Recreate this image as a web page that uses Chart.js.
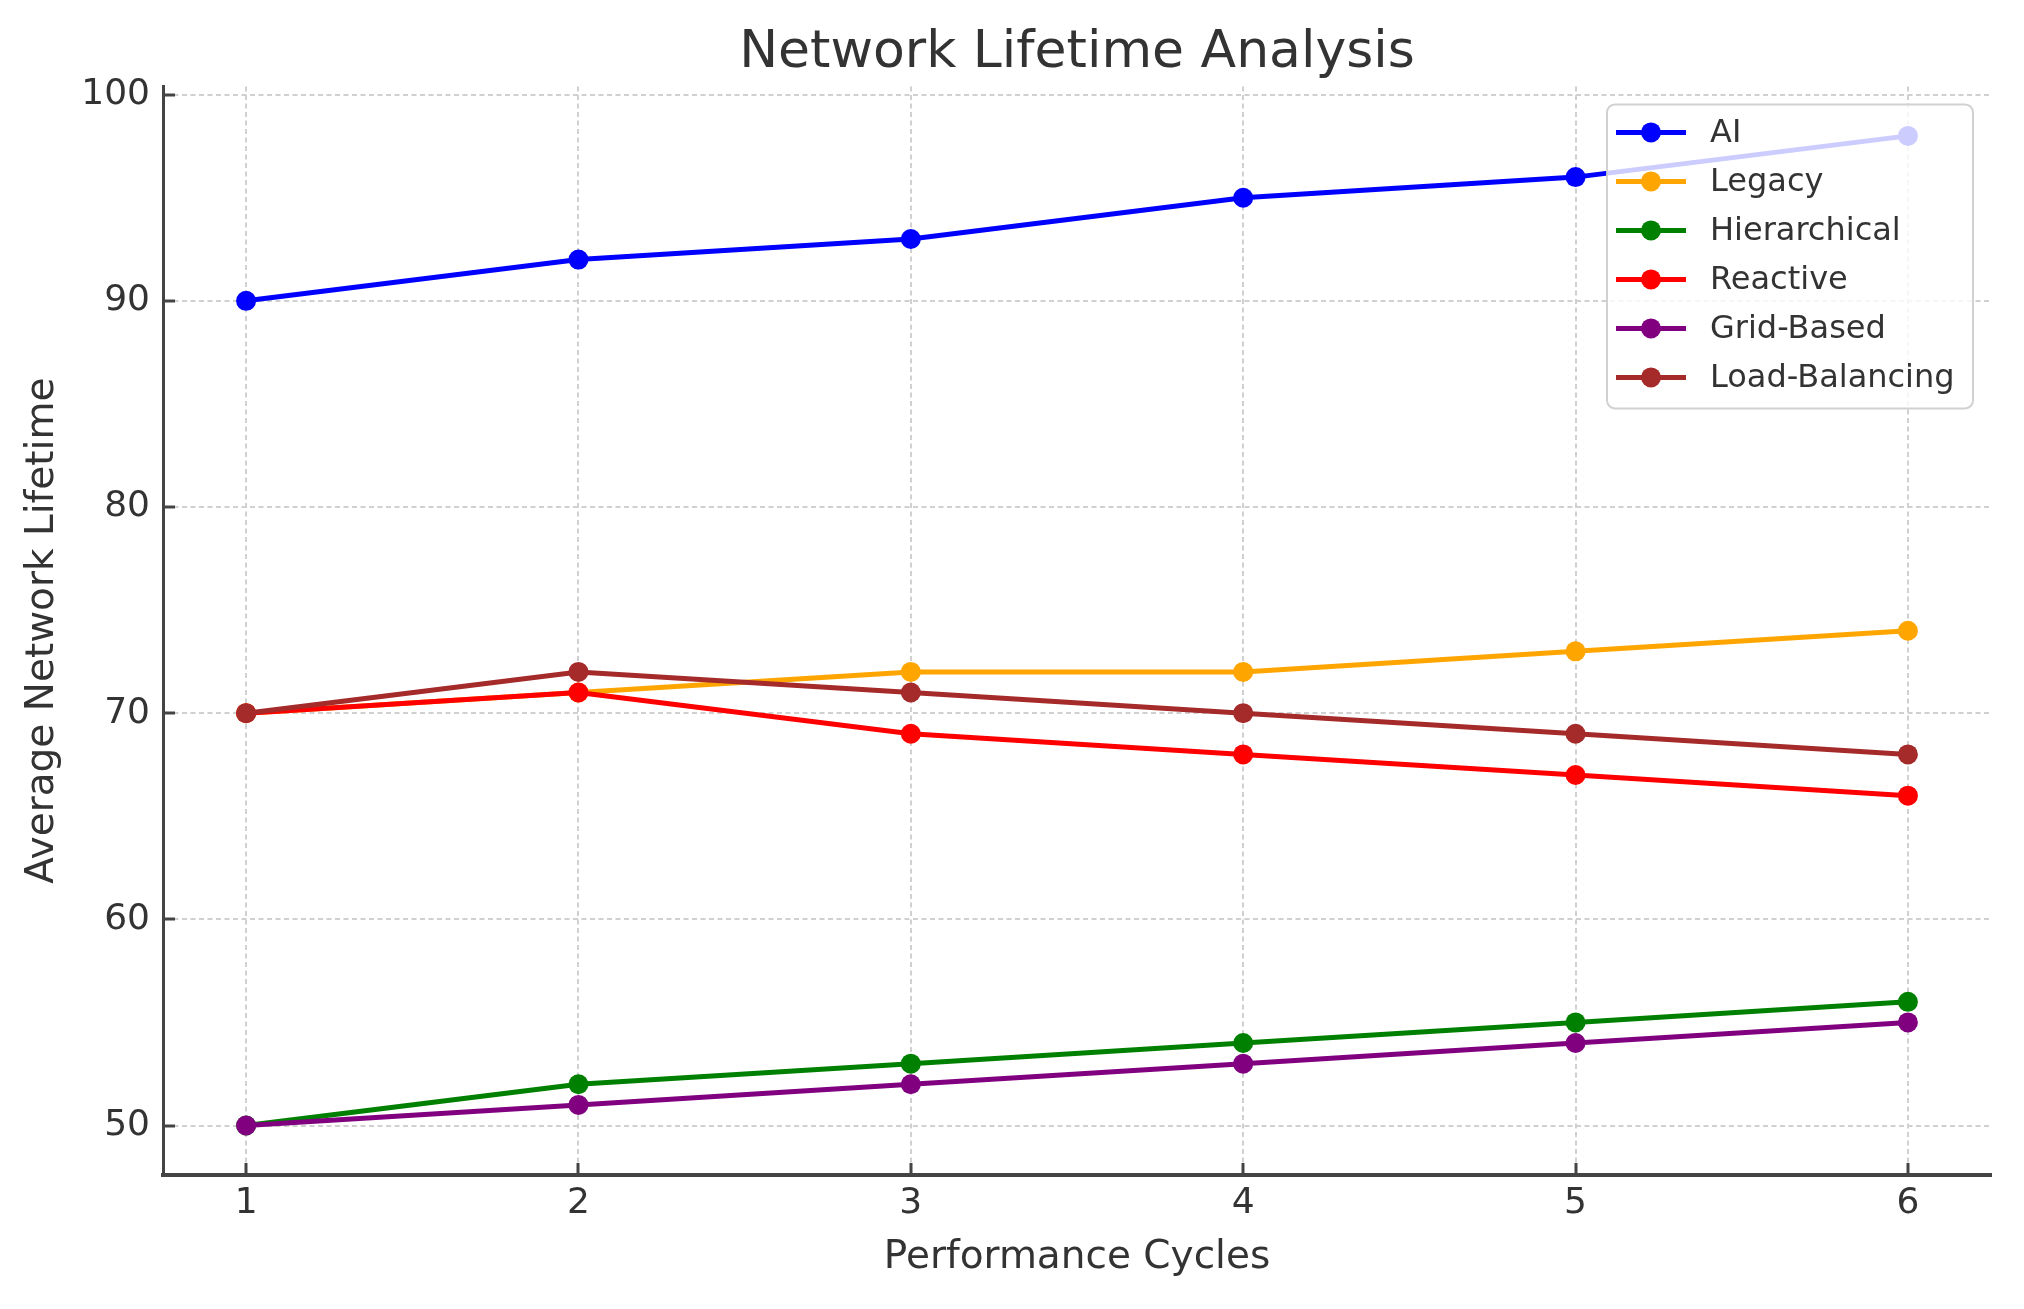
<!DOCTYPE html>
<html>
<head>
<meta charset="utf-8">
<script src="https://cdn.jsdelivr.net/npm/chart.js@4.4.1/dist/chart.umd.min.js"></script>
<style>
  html, body { margin: 0; padding: 0; background: #ffffff; }
  canvas { display: block; background: #ffffff; }
</style>
</head>
<body>
<canvas id="c" width="2024" height="1309"></canvas>
<script>
// ---- data ----
const cycles = [1, 2, 3, 4, 5, 6];
const yTicks = [50, 60, 70, 80, 90, 100];
const seriesNames = ["AI", "Legacy", "Hierarchical", "Reactive", "Grid-Based", "Load-Balancing"];
const aiValues = [90, 92, 93, 95, 96, 98];
const legacyValues = [70, 71, 72, 72, 73, 74];
const hierarchicalValues = [50, 52, 53, 54, 55, 56];
const reactiveValues = [70, 71, 69, 68, 67, 66];
const gridBasedValues = [50, 51, 52, 53, 54, 55];
const loadBalancingValues = [70, 72, 71, 70, 69, 68];
const seriesColors = ["#0000ff", "#ffa500", "#008000", "#ff0000", "#800080", "#a52a2a"];

const allValues = [aiValues, legacyValues, hierarchicalValues, reactiveValues, gridBasedValues, loadBalancingValues];

const FONT = "'DejaVu Sans', 'Liberation Sans', sans-serif";
const TEXT = "#333333";
const AXIS = "#444444";

const datasets = allValues.map((vals, i) => ({
  label: seriesNames[i],
  data: vals.map((v, j) => ({ x: cycles[j], y: v })),
  borderColor: seriesColors[i],
  backgroundColor: seriesColors[i],
  pointBackgroundColor: seriesColors[i],
  pointBorderWidth: 0,
  pointRadius: 10,
  borderWidth: 5,
  tension: 0,
  fill: false,
  order: allValues.length - i
}));

const legendPlugin = {
  id: 'insideLegend',
  afterDatasetsDraw(chart) {
    const ctx = chart.ctx;
    const ca = chart.chartArea;
    const w = 366, h = 304;
    const x0 = ca.right - 18 - w;
    const y0 = ca.top + 18;
    ctx.save();
    ctx.beginPath();
    ctx.roundRect(x0, y0, w, h, 8);
    ctx.fillStyle = 'rgba(255,255,255,0.8)';
    ctx.fill();
    ctx.lineWidth = 2;
    ctx.strokeStyle = 'rgba(204,204,204,0.9)';
    ctx.stroke();
    ctx.font = "32px " + FONT;
    ctx.textBaseline = 'middle';
    ctx.textAlign = 'left';
    chart.data.datasets.forEach((ds, i) => {
      const cy = y0 + 28 + i * 49;
      ctx.beginPath();
      ctx.lineWidth = 5;
      ctx.strokeStyle = ds.borderColor;
      ctx.moveTo(x0 + 9, cy);
      ctx.lineTo(x0 + 79, cy);
      ctx.stroke();
      ctx.beginPath();
      ctx.fillStyle = ds.borderColor;
      ctx.arc(x0 + 44, cy, 10, 0, Math.PI * 2);
      ctx.fill();
      ctx.fillStyle = TEXT;
      ctx.fillText(ds.label, x0 + 103, cy + 1);
    });
    ctx.restore();
  }
};

new Chart(document.getElementById('c'), {
  type: 'line',
  data: { datasets },
  plugins: [legendPlugin],
  options: {
    responsive: false,
    devicePixelRatio: 1,
    animation: false,
    events: [],
    layout: { padding: { left: 0, right: 33, top: 0, bottom: 0 } },
    plugins: {
      legend: { display: false },
      tooltip: { enabled: false },
      title: {
        display: true,
        text: 'Network Lifetime Analysis',
        fullSize: false,
        color: TEXT,
        font: { family: FONT, size: 52, weight: 'normal', lineHeight: 1.2 },
        padding: { top: 22, bottom: 2 }
      }
    },
    scales: {
      x: {
        type: 'linear',
        min: 0.75,
        max: 6.25,
        afterBuildTicks(scale) { scale.ticks = cycles.map(v => ({ value: v })); },
        afterFit(scale) { scale.height = 134; },
        ticks: {
          color: TEXT,
          font: { family: FONT, size: 36, lineHeight: 1.2 },
          padding: 19,
          maxRotation: 0,
          callback: v => String(v)
        },
        grid: {
          color: '#d0d0d0',
          lineWidth: 2,
          tickLength: -12,
          tickColor: AXIS,
          tickWidth: 3
        },
        border: { display: true, color: AXIS, width: 4, dash: [5, 3.5] },
        title: {
          display: true,
          text: 'Performance Cycles',
          color: TEXT,
          font: { family: FONT, size: 39, lineHeight: 1.2 },
          padding: { top: 0, bottom: 27.6 }
        }
      },
      y: {
        type: 'linear',
        min: 47.6,
        max: 100.4,
        afterBuildTicks(scale) { scale.ticks = yTicks.map(v => ({ value: v })); },
        afterFit(scale) { scale.width = 163; },
        ticks: {
          color: TEXT,
          font: { family: FONT, size: 36, lineHeight: 1.2 },
          padding: 25,
          callback: v => String(v)
        },
        grid: {
          color: '#d0d0d0',
          lineWidth: 2,
          tickLength: -12,
          tickColor: AXIS,
          tickWidth: 3
        },
        border: { display: true, color: AXIS, width: 3, dash: [5, 3.5] },
        title: {
          display: true,
          text: 'Average Network Lifetime',
          color: TEXT,
          font: { family: FONT, size: 39, lineHeight: 1.2 },
          padding: { top: 19.6, bottom: 0 }
        }
      }
    }
  }
});
</script>
</body>
</html>
